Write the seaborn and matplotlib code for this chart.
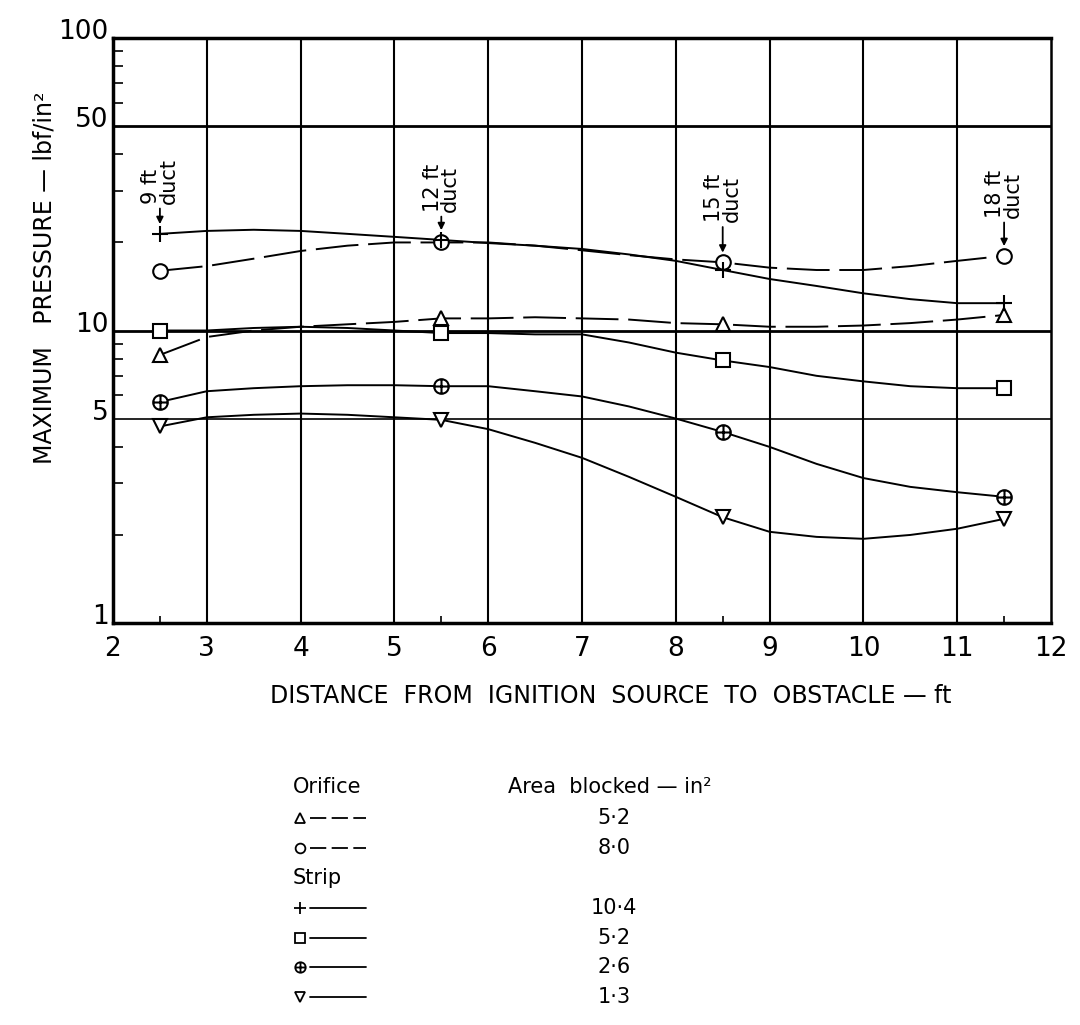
import numpy as np
import pandas as pd
import matplotlib
matplotlib.use("Agg")
import matplotlib.pyplot as plt
import matplotlib.transforms as mtransforms
from matplotlib.path import Path
from matplotlib.ticker import LogLocator, FixedLocator, NullFormatter
import seaborn as sns

# ---------------- data ----------------
marker_x = [2.5, 5.5, 8.5, 11.5]
curve_x = [2.5, 3, 3.5, 4, 4.5, 5, 5.5, 6, 6.5, 7, 7.5, 8, 8.5, 9, 9.5, 10, 10.5, 11, 11.5]

orifice_52_pts = [8.25, 11.0, 10.5, 11.3]
orifice_52_curve = [8.25, 9.5, 10.0, 10.3, 10.5, 10.7, 11.0, 11.0, 11.1, 11.0, 10.9, 10.6, 10.5, 10.3, 10.3, 10.4, 10.6, 10.9, 11.3]
orifice_80_pts = [16.0, 20.0, 17.1, 18.0]
orifice_80_curve = [16.0, 16.6, 17.6, 18.7, 19.5, 20.0, 20.0, 20.0, 19.5, 18.8, 18.1, 17.5, 17.1, 16.4, 16.1, 16.1, 16.6, 17.3, 18.0]
strip_104_pts = [21.4, 20.4, 16.1, 12.4]
strip_104_curve = [21.4, 21.9, 22.1, 21.9, 21.4, 20.9, 20.4, 19.9, 19.5, 19.0, 18.2, 17.3, 16.1, 15.0, 14.2, 13.4, 12.8, 12.4, 12.4]
strip_52_pts = [10.0, 9.8, 7.9, 6.35]
strip_52_curve = [10.0, 10.0, 10.2, 10.3, 10.2, 10.0, 9.8, 9.8, 9.7, 9.7, 9.1, 8.4, 7.9, 7.5, 7.0, 6.7, 6.45, 6.35, 6.35]
strip_26_pts = [5.7, 6.45, 4.5, 2.7]
strip_26_curve = [5.7, 6.2, 6.35, 6.45, 6.5, 6.5, 6.45, 6.45, 6.2, 5.95, 5.5, 5.0, 4.5, 4.0, 3.5, 3.13, 2.92, 2.8, 2.7]
strip_13_pts = [4.7, 4.95, 2.3, 2.27]
strip_13_curve = [4.7, 5.05, 5.15, 5.2, 5.15, 5.05, 4.95, 4.6, 4.13, 3.67, 3.16, 2.7, 2.3, 2.05, 1.97, 1.94, 2.0, 2.1, 2.27]

area_labels = ["5·2", "8·0", "10·4", "5·2", "2·6", "1·3"]
duct_labels = ["9 ft\nduct", "12 ft\nduct", "15 ft\nduct", "18 ft\nduct"]
x_ticks = [2, 3, 4, 5, 6, 7, 8, 9, 10, 11, 12]
y_ticks = [1, 5, 10, 50, 100]
x_label = "DISTANCE  FROM  IGNITION  SOURCE  TO  OBSTACLE — ft"
y_label = "MAXIMUM   PRESSURE — lbf/in²"

# ---------------- style ----------------
sns.set_theme(style="white")
FONT = ["DejaVu Sans"]
plt.rcParams["font.family"] = FONT
plt.rcParams["text.color"] = "black"
plt.rcParams["xtick.color"] = "black"
plt.rcParams["ytick.color"] = "black"
plt.rcParams["xtick.labelcolor"] = "black"
plt.rcParams["ytick.labelcolor"] = "black"

# circled-plus marker
oplus = Path.make_compound_path(
    Path.unit_circle(),
    Path([[-1, 0], [1, 0]], [Path.MOVETO, Path.LINETO]),
    Path([[0, -1], [0, 1]], [Path.MOVETO, Path.LINETO]),
)

series = [
    dict(pts=orifice_52_pts, curve=orifice_52_curve, marker="^", ms=10, dashed=True),
    dict(pts=orifice_80_pts, curve=orifice_80_curve, marker="o", ms=10.5, dashed=True),
    dict(pts=strip_104_pts, curve=strip_104_curve, marker="+", ms=12, dashed=False),
    dict(pts=strip_52_pts, curve=strip_52_curve, marker="s", ms=10, dashed=False),
    dict(pts=strip_26_pts, curve=strip_26_curve, marker=oplus, ms=10.5, dashed=False),
    dict(pts=strip_13_pts, curve=strip_13_curve, marker="v", ms=10, dashed=False),
]

W, H = 1080, 1025
fig = plt.figure(figsize=(W / 100, H / 100), dpi=100)
L, R, T, B = 113, 1051, 38, 623
ax = fig.add_axes([L / W, 1 - B / H, (R - L) / W, (B - T) / H])
ax.set_yscale("log")
ax.set_xlim(2, 12)
ax.set_ylim(1, 100)

# grid lines
for xv in x_ticks[1:-1]:
    ax.axvline(xv, color="black", lw=1.5, zorder=1)
for yv, lw in zip([5, 10, 50], [1.2, 2.0, 2.0]):
    ax.axhline(yv, color="black", lw=lw, zorder=1)

# curves and markers
for s in series:
    df = pd.DataFrame({"x": curve_x, "y": s["curve"]})
    kw = dict(dashes=(22, 5)) if s["dashed"] else {}
    sns.lineplot(data=df, x="x", y="y", color="black", lw=1.4, ax=ax,
                 estimator=None, sort=False, zorder=3, **kw)
    ax.plot(marker_x, s["pts"], linestyle="none", marker=s["marker"],
            ms=s["ms"], mfc="white", mec="black", mew=1.5, zorder=5)
ax.set_xlabel("")
ax.set_ylabel("")

# duct annotations
top_vals = np.max(np.array([s["pts"] for s in series]), axis=0)
offsets = [30, 28, 40, 38]
for xv, yv, lab, off in zip(marker_x, top_vals, duct_labels, offsets):
    ax.annotate(lab, xy=(xv, yv), xycoords="data",
                xytext=(0, off), textcoords="offset pixels",
                rotation=90, ha="center", va="bottom", ma="left",
                fontsize=15, linespacing=0.85,
                arrowprops=dict(arrowstyle="-|>", color="black", lw=1.3,
                                mutation_scale=10, shrinkA=1, shrinkB=7),
                zorder=6)

# spines
for side, lw in [("left", 2.5), ("bottom", 2.5), ("top", 2.5), ("right", 1.8)]:
    ax.spines[side].set_visible(True)
    ax.spines[side].set_color("black")
    ax.spines[side].set_linewidth(lw)

# ticks
ax.set_xticks(x_ticks)
ax.set_xticklabels([str(v) for v in x_ticks])
ax.xaxis.set_minor_locator(FixedLocator(marker_x))
ax.set_yticks(y_ticks)
ax.set_yticklabels([str(v) for v in y_ticks])
ax.yaxis.set_minor_locator(LogLocator(base=10, subs=range(2, 10)))
ax.yaxis.set_minor_formatter(NullFormatter())
ax.tick_params(axis="x", which="major", length=0, pad=9, labelsize=19,
               labelcolor="black")
ax.tick_params(axis="x", which="minor", direction="in", length=5, width=1.2,
               bottom=True, top=False, color="black")
ax.tick_params(axis="y", which="major", length=0, pad=3, labelsize=19,
               labelcolor="black")
ax.tick_params(axis="y", which="minor", direction="in", length=7, width=1.2,
               left=True, right=False, color="black")
shift = mtransforms.ScaledTranslation(0, 9 / 100, fig.dpi_scale_trans)
for lab in ax.get_yticklabels():
    lab.set_transform(lab.get_transform() + shift)

# axis titles
fig.text(611 / W, 1 - 696 / H, x_label, ha="center", va="center", fontsize=17)
fig.text(45 / W, 1 - 278 / H, y_label, ha="center", va="center",
         rotation=90, fontsize=17)

# ---------------- legend table ----------------
lg = fig.add_axes([0, 0, 1, 1])
lg.set_xlim(0, W)
lg.set_ylim(H, 0)
lg.axis("off")
lg.patch.set_visible(False)

row_y = [818, 848, 908, 938, 967, 997]
header_y = {"Orifice": 787, "Strip": 878}
for g, yy in header_y.items():
    lg.text(293, yy, g, ha="left", va="center", fontsize=15)
lg.text(508, 787, "Area  blocked — in²", ha="left", va="center", fontsize=15)
legend_ms = [6.5, 7, 8, 7, 7.5, 7]
for s, yy, lab, ms in zip(series, row_y, area_labels, legend_ms):
    lg.plot([300], [yy], linestyle="none", marker=s["marker"], ms=ms,
            mfc="white", mec="black", mew=1.3)
    kw = dict(dashes=(9, 3)) if s["dashed"] else {}
    lg.plot([310, 366], [yy, yy], color="black", lw=1.3, **kw)
    lg.text(614, yy, lab, ha="center", va="center", fontsize=15)

fig.savefig("out.png", dpi=100, facecolor="white")
